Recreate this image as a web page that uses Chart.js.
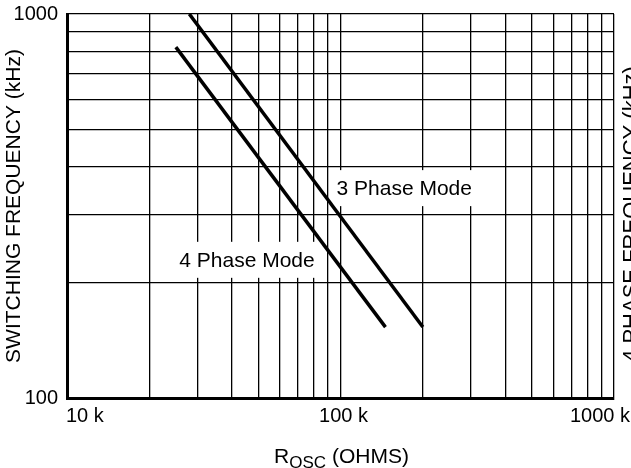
<!DOCTYPE html>
<html>
<head>
<meta charset="utf-8">
<script src="https://cdn.jsdelivr.net/npm/chart.js@4"></script>
<style>
  body { margin: 0; background: #fff; }
  #wrap { width: 631px; height: 468px; position: relative; overflow: hidden; }
</style>
</head>
<body>
<div id="wrap"><canvas id="chart"></canvas></div>
<script>
// values (R in kOhm, f in kHz)
const phase3R = [28, 200];
const phase3F = [1000, 153];
const phase4R = [25, 146];
const phase4F = [820, 153];

// grid lines / ticks
const xGrid = [10, 20, 30, 40, 50, 60, 70, 80, 90, 100, 200, 300, 400, 500, 600, 700, 800, 900, 1000];
const yGrid = [100, 200, 300, 400, 500, 600, 700, 800, 900, 1000];
const xTickLabels = [10, 100, 1000];
const yTickLabels = [100, 1000];

const seriesNames = ['3 Phase Mode', '4 Phase Mode'];
// where the curve labels sit, in data units
const labelAt = [{ x: 171, y: 352 }, { x: 45.5, y: 229 }];

const FONT = '"Liberation Sans", Arial, sans-serif';

function pairs(xs, ys) {
    return xs.map((x, i) => ({ x: x, y: ys[i] }));
}

// labels with white boxes, x tick text, x title with subscript, clipped right title
const extras = {
    id: 'extras',
    beforeDatasetsDraw(chart) {
        const ctx = chart.ctx;
        const xs = chart.scales.x, ys = chart.scales.y;
        ctx.save();
        ctx.font = '21px ' + FONT;
        ctx.textAlign = 'center';
        ctx.textBaseline = 'middle';
        labelAt.forEach((p, i) => {
            const cx = xs.getPixelForValue(p.x);
            const cy = ys.getPixelForValue(p.y);
            const w = ctx.measureText(seriesNames[i]).width + 8;
            ctx.fillStyle = '#fff';
            ctx.fillRect(cx - w / 2, cy - 18, w, 36);
            ctx.fillStyle = '#000';
            ctx.fillText(seriesNames[i], cx, cy + 1);
        });
        ctx.restore();
    },
    afterDraw(chart) {
        const ctx = chart.ctx;
        const xs = chart.scales.x;
        const area = chart.chartArea;
        ctx.save();
        ctx.fillStyle = '#000';
        ctx.font = '20px ' + FONT;
        ctx.textBaseline = 'alphabetic';
        const aligns = ['left', 'center', 'right'];
        const shifts = [-1, 3, 16];
        xTickLabels.forEach((v, i) => {
            ctx.textAlign = aligns[i];
            ctx.fillText(v + ' k', xs.getPixelForValue(v) + shifts[i], area.bottom + 24);
        });

        // R_OSC (OHMS)
        const big = '21px ' + FONT, small = '17px ' + FONT;
        ctx.font = big;
        const wR = ctx.measureText('R').width;
        const wTail = ctx.measureText(' (OHMS)').width;
        ctx.font = small;
        const wSub = ctx.measureText('OSC').width;
        const total = wR + wSub + wTail;
        let x = (area.left + area.right) / 2 - total / 2 + 1;
        const base = area.bottom + 65;
        ctx.textAlign = 'left';
        ctx.font = big;
        ctx.fillText('R', x, base);
        x += wR;
        ctx.font = small;
        ctx.fillText('OSC', x, base + 5);
        x += wSub;
        ctx.font = big;
        ctx.fillText(' (OHMS)', x, base);

        // right axis title, cut by the page edge
        ctx.translate(638, (area.top + area.bottom) / 2 + 8);
        ctx.rotate(-Math.PI / 2);
        ctx.font = '22px ' + FONT;
        ctx.textAlign = 'center';
        ctx.fillText('4 PHASE FREQUENCY (kHz)', 0, 0);
        ctx.restore();
    }
};

new Chart(document.getElementById('chart'), {
    type: 'scatter',
    data: {
        datasets: [{
            label: seriesNames[0],
            data: pairs(phase3R, phase3F),
            showLine: true,
            borderColor: '#000',
            borderWidth: 3.5,
            pointRadius: 0
        }, {
            label: seriesNames[1],
            data: pairs(phase4R, phase4F),
            showLine: true,
            borderColor: '#000',
            borderWidth: 3.5,
            pointRadius: 0
        }]
    },
    options: {
        responsive: true,
        maintainAspectRatio: false,
        animation: false,
        layout: { padding: { top: 14, right: 17, left: 0, bottom: 0 } },
        plugins: {
            legend: { display: false },
            tooltip: { enabled: false }
        },
        scales: {
            x: {
                type: 'logarithmic',
                min: 10,
                max: 1000,
                afterBuildTicks: s => { s.ticks = xGrid.map(v => ({ value: v })); },
                afterFit: s => { s.height = 70; s.paddingLeft = 0; s.paddingRight = 0; },
                grid: { color: '#000', lineWidth: 1.3, drawTicks: false },
                border: { color: '#000', width: 3 },
                ticks: { display: false, autoSkip: false }
            },
            y: {
                type: 'logarithmic',
                min: 100,
                max: 1000,
                afterBuildTicks: s => { s.ticks = yGrid.map(v => ({ value: v })); },
                afterFit: s => { s.width = 67; s.paddingTop = 0; s.paddingBottom = 0; },
                grid: { color: '#000', lineWidth: 1.2, drawTicks: false },
                border: { color: '#000', width: 3 },
                ticks: {
                    autoSkip: false,
                    padding: 9,
                    color: '#000',
                    font: { family: FONT, size: 20 },
                    callback: v => yTickLabels.includes(v) ? String(v) : ''
                },
                title: {
                    display: true,
                    text: 'SWITCHING FREQUENCY (kHz)',
                    color: '#000',
                    font: { family: FONT, size: 21 },
                    padding: { top: 2, bottom: 0 }
                }
            }
        }
    },
    plugins: [extras]
});
</script>
</body>
</html>
